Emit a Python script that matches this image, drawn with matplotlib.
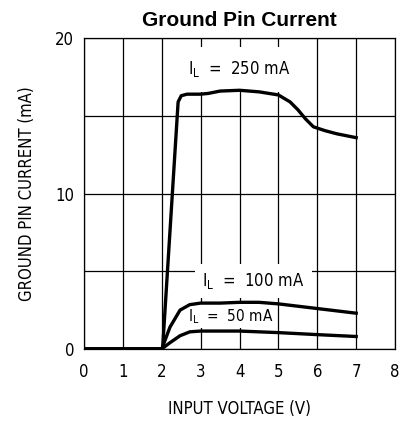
import matplotlib.pyplot as plt

plt.rcParams['font.family'] = ['DejaVu Sans']
plt.rcParams['font.stretch'] = 'condensed'

# input voltage (V) vs ground pin current (mA)
v_250 = [0, 1, 2.02, 2.42, 2.5, 2.65, 3.0, 3.2, 3.5, 4.0, 4.5, 5.0, 5.3, 5.5, 5.7, 5.9, 6.2, 6.5, 7.0]
i_250 = [0, 0, 0, 15.9, 16.3, 16.4, 16.4, 16.45, 16.6, 16.65, 16.55, 16.35, 15.9, 15.4, 14.8, 14.3, 14.05, 13.85, 13.6]

v_100 = [0, 1, 2.0, 2.21, 2.47, 2.72, 3.0, 3.5, 4.0, 4.5, 5.0, 5.5, 6.0, 6.5, 7.0]
i_100 = [0, 0, 0, 1.4, 2.5, 2.85, 2.95, 2.95, 3.0, 3.0, 2.9, 2.75, 2.6, 2.45, 2.3]

v_50 = [0, 1, 2.0, 2.21, 2.47, 2.72, 3.0, 3.5, 4.0, 5.0, 6.0, 7.0]
i_50 = [0, 0, 0, 0.4, 0.85, 1.1, 1.15, 1.15, 1.15, 1.05, 0.92, 0.8]

plt.figure(figsize=(4.06, 4.25), dpi=100)
ax = plt.axes([0.207, 0.179, 0.766, 0.731])

for v, i in [(v_250, i_250), (v_100, i_100), (v_50, i_50)]:
    ax.plot(v, i, 'k-', lw=2.4, zorder=5)

ax.set_xlim(0, 8)
ax.set_ylim(0, 20)
ax.set_xticks(range(0, 9))
ax.set_yticks([0, 10, 20])
ax.set_yticks([5, 15], minor=True)
ax.grid(True, which='both', color='black', lw=0.9)
ax.tick_params(which='both', length=0, labelsize=12)
ax.tick_params(axis='x', pad=10)
ax.tick_params(axis='y', pad=7)
for s in ax.spines.values():
    s.set_linewidth(0.9)
    s.set_zorder(6)

ax.text(3.98, 18.0, r'I$_\mathregular{L}$  =  250 mA', ha='center', va='center', fontsize=12,
        bbox=dict(facecolor='white', edgecolor='none', pad=9), zorder=4)
ax.text(4.36, 4.35, r'I$_\mathregular{L}$  =  100 mA', ha='center', va='center', fontsize=12,
        bbox=dict(facecolor='white', edgecolor='none', pad=5), zorder=4)
ax.text(3.78, 2.1, r'I$_\mathregular{L}$  =  50 mA', ha='center', va='center', fontsize=11,
        bbox=dict(facecolor='white', edgecolor='none', pad=2), zorder=4)

ax.set_title('Ground Pin Current', fontsize=15, fontweight='bold', family='Liberation Sans',
             stretch='normal', pad=9)
ax.set_xlabel('INPUT VOLTAGE (V)', fontsize=12, labelpad=14)
ax.set_ylabel('GROUND PIN CURRENT (mA)', fontsize=12, labelpad=14)

plt.savefig('out.png', dpi=100)
